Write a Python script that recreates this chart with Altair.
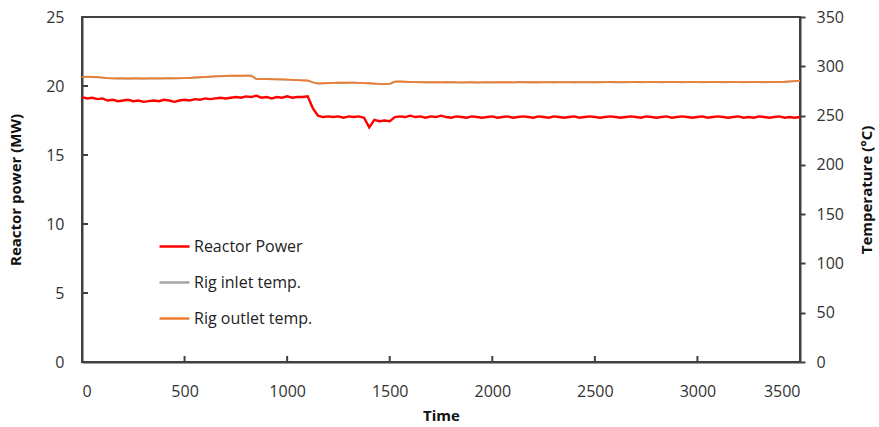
import altair as alt
import pandas as pd

# ---------------- data ----------------
times = list(range(0, 3501, 25))

reactor_power = [
    19.20, 19.10, 19.15, 19.05, 19.10, 18.95, 19.00, 18.90, 18.95, 19.00,
    18.90, 18.95, 18.85, 18.90, 18.95, 18.90, 19.00, 18.95, 18.85, 18.95,
    19.00, 18.95, 19.05, 19.00, 19.10, 19.05, 19.10, 19.15, 19.10, 19.15,
    19.20, 19.15, 19.25, 19.20, 19.30, 19.15, 19.20, 19.10, 19.20, 19.15,
    19.25, 19.15, 19.20, 19.20, 19.25, 18.40, 17.85, 17.75, 17.80, 17.75,
    17.80, 17.70, 17.80, 17.75, 17.80, 17.70, 17.00, 17.55, 17.45, 17.50,
    17.45, 17.75, 17.80, 17.75, 17.85, 17.75, 17.80, 17.70, 17.80, 17.75,
    17.85, 17.75, 17.70, 17.80, 17.75, 17.70, 17.80, 17.75, 17.70, 17.75,
    17.80, 17.70, 17.75, 17.80, 17.70, 17.75, 17.80, 17.75, 17.70, 17.80,
    17.75, 17.70, 17.80, 17.75, 17.70, 17.75, 17.80, 17.70, 17.75, 17.80,
    17.75, 17.70, 17.75, 17.80, 17.75, 17.70, 17.75, 17.80, 17.75, 17.70,
    17.80, 17.75, 17.70, 17.75, 17.80, 17.70, 17.75, 17.80, 17.75, 17.70,
    17.75, 17.80, 17.70, 17.75, 17.80, 17.75, 17.70, 17.75, 17.80, 17.70,
    17.75, 17.70, 17.80, 17.75, 17.70, 17.75, 17.80, 17.70, 17.75, 17.70,
    17.75,
]

rig_outlet_temp = [
    289.3, 289.4, 289.2, 289.0, 288.5, 288.0, 287.8, 287.7, 287.8, 287.6,
    287.7, 287.8, 287.6, 287.7, 287.8, 287.7, 287.8, 287.9, 287.8, 287.9,
    288.0, 288.3, 288.6, 288.9, 289.2, 289.5, 289.8, 290.0, 290.2, 290.4,
    290.5, 290.4, 290.6, 290.5, 287.2, 287.0, 287.1, 286.9, 286.8, 286.7,
    286.5, 286.3, 286.0, 285.8, 285.6, 283.8, 282.6, 282.8, 283.0, 283.2,
    283.4, 283.3, 283.5, 283.4, 283.2, 283.0, 282.8, 282.5, 282.2, 282.0,
    282.2, 284.5, 284.6, 284.3, 284.1, 284.0, 283.9, 283.8, 283.9, 283.8,
    283.7, 283.8, 283.9, 283.7, 283.6, 283.7, 283.8, 283.6, 283.7, 283.8,
    283.7, 283.8, 283.9, 283.8, 283.7, 283.9, 284.0, 283.8, 283.9, 283.8,
    283.9, 284.0, 283.8, 283.9, 284.0, 283.9, 283.8, 283.9, 284.0, 283.9,
    283.8, 283.9, 284.0, 284.1, 283.9, 284.0, 283.9, 284.0, 284.1, 283.9,
    284.0, 284.1, 284.0, 283.9, 284.0, 284.1, 284.0, 283.9, 284.0, 284.1,
    284.0, 283.9, 284.0, 284.1, 284.0, 283.9, 284.0, 284.1, 284.0, 283.9,
    284.0, 284.1, 284.0, 283.9, 284.0, 284.1, 284.2, 284.3, 284.6, 285.0,
    285.4,
]

# inlet trace lies hidden underneath the outlet trace in the reference
rig_inlet_temp = [
    289.2, 289.3, 289.1, 288.9, 288.4, 287.9, 287.7, 287.6, 287.7, 287.5,
    287.6, 287.7, 287.5, 287.6, 287.7, 287.6, 287.7, 287.8, 287.7, 287.8,
    287.9, 288.2, 288.5, 288.8, 289.1, 289.4, 289.7, 289.9, 290.1, 290.3,
    290.4, 290.3, 290.5, 290.4, 287.1, 286.9, 287.0, 286.8, 286.7, 286.6,
    286.4, 286.2, 285.9, 285.7, 285.5, 283.7, 282.5, 282.7, 282.9, 283.1,
    283.3, 283.2, 283.4, 283.3, 283.1, 282.9, 282.7, 282.4, 282.1, 281.9,
    282.1, 284.4, 284.5, 284.2, 284.0, 283.9, 283.8, 283.7, 283.8, 283.7,
    283.6, 283.7, 283.8, 283.6, 283.5, 283.6, 283.7, 283.5, 283.6, 283.7,
    283.6, 283.7, 283.8, 283.7, 283.6, 283.8, 283.9, 283.7, 283.8, 283.7,
    283.8, 283.9, 283.7, 283.8, 283.9, 283.8, 283.7, 283.8, 283.9, 283.8,
    283.7, 283.8, 283.9, 284.0, 283.8, 283.9, 283.8, 283.9, 284.0, 283.8,
    283.9, 284.0, 283.9, 283.8, 283.9, 284.0, 283.9, 283.8, 283.9, 284.0,
    283.9, 283.8, 283.9, 284.0, 283.9, 283.8, 283.9, 284.0, 283.9, 283.8,
    283.9, 284.0, 283.9, 283.8, 283.9, 284.0, 284.1, 284.2, 284.5, 284.9,
    285.3,
]

series_names = ["Reactor Power", "Rig inlet temp.", "Rig outlet temp."]
series_colors = ["#FF0000", "#A5A5A5", "#ED7D31"]

x_tick_labels = [0, 500, 1000, 1500, 2000, 2500, 3000, 3500]
x_inner_ticks = [500, 1000, 1500, 2000, 2500, 3000]
power_tick_labels = [0, 5, 10, 15, 20, 25]
power_inner_ticks = [5, 10, 15, 20]
temp_tick_labels = [0, 50, 100, 150, 200, 250, 300, 350]

# ---------------- tables ----------------
power_df = pd.DataFrame({"time": times, "value": reactor_power, "series": series_names[0]})
temp_df = pd.concat([
    pd.DataFrame({"time": times, "value": rig_inlet_temp, "series": series_names[1]}),
    pd.DataFrame({"time": times, "value": rig_outlet_temp, "series": series_names[2]}),
], ignore_index=True)
temp_df["order"] = range(len(temp_df))
xt_df = pd.DataFrame({"time": x_inner_ticks})
yt_df = pd.DataFrame({"value": power_inner_ticks})

W, H = 718, 345
AX = "#404040"
FONT = "Open Sans"

x_scale = alt.Scale(domain=[0, 3500], nice=False, zero=False)
x_axis = alt.Axis(title="Time", values=x_tick_labels, format="d", ticks=False, tickSize=0,
                  labelPadding=21, titlePadding=9, grid=False)
p_scale = alt.Scale(domain=[0, 25], nice=False)
p_axis = alt.Axis(title="Reactor power (MW)", orient="left", values=power_tick_labels,
                  format="d", ticks=False, tickSize=0, labelPadding=18, titlePadding=22,
                  grid=False)
t_scale = alt.Scale(domain=[0, 350], nice=False)
t_axis = alt.Axis(title="Temperature (°C)", orient="right", values=temp_tick_labels,
                  format="d", ticks=True, tickSize=5, tickWidth=2, tickColor=AX,
                  labelPadding=11, titlePadding=31, titleAngle=270, grid=False)

color = alt.Color(
    "series:N",
    scale=alt.Scale(domain=series_names, range=series_colors),
    legend=alt.Legend(
        title=None, orient="none", legendX=76, legendY=213,
        symbolType="stroke", symbolSize=900, symbolStrokeWidth=2.5,
        labelFontSize=16, labelFont=FONT, labelColor="#222222",
        labelOffset=3, rowPadding=11,
    ),
)

power = alt.Chart(power_df).mark_line(strokeWidth=2.4).encode(
    x=alt.X("time:Q", scale=x_scale, axis=x_axis),
    y=alt.Y("value:Q", scale=p_scale, axis=p_axis),
    color=color,
)

x_ticks_layer = alt.Chart(xt_df).mark_rule(color=AX, strokeWidth=2).encode(
    x=alt.X("time:Q", scale=x_scale, axis=x_axis),
    y=alt.value(H - 6),
    y2=alt.value(H),
)

y_ticks_layer = alt.Chart(yt_df).mark_rule(color=AX, strokeWidth=2).encode(
    y=alt.Y("value:Q", scale=p_scale, axis=p_axis),
    x=alt.value(0),
    x2=alt.value(6),
)

temp = alt.Chart(temp_df).mark_line(strokeWidth=1.8).encode(
    x=alt.X("time:Q", scale=x_scale, axis=x_axis),
    y=alt.Y("value:Q", scale=t_scale, axis=t_axis),
    color=color,
    order="order:Q",
)

chart = alt.layer(
    alt.layer(power, x_ticks_layer, y_ticks_layer),
    temp,
).resolve_scale(y="independent").properties(
    width=W, height=H,
    padding={"left": 82, "top": 17, "right": 79, "bottom": 65},
    autosize=alt.AutoSizeParams(type="none"),
).configure_view(
    stroke=AX, strokeWidth=2,
).configure_axis(
    domainColor=AX, domainWidth=2,
    labelFont=FONT, labelFontSize=16, labelColor="#333333",
    titleFont=FONT, titleFontSize=15, titleFontWeight="bold", titleColor="#111111",
)

chart.save("out.html", embed_options={"renderer": "svg", "actions": False})
